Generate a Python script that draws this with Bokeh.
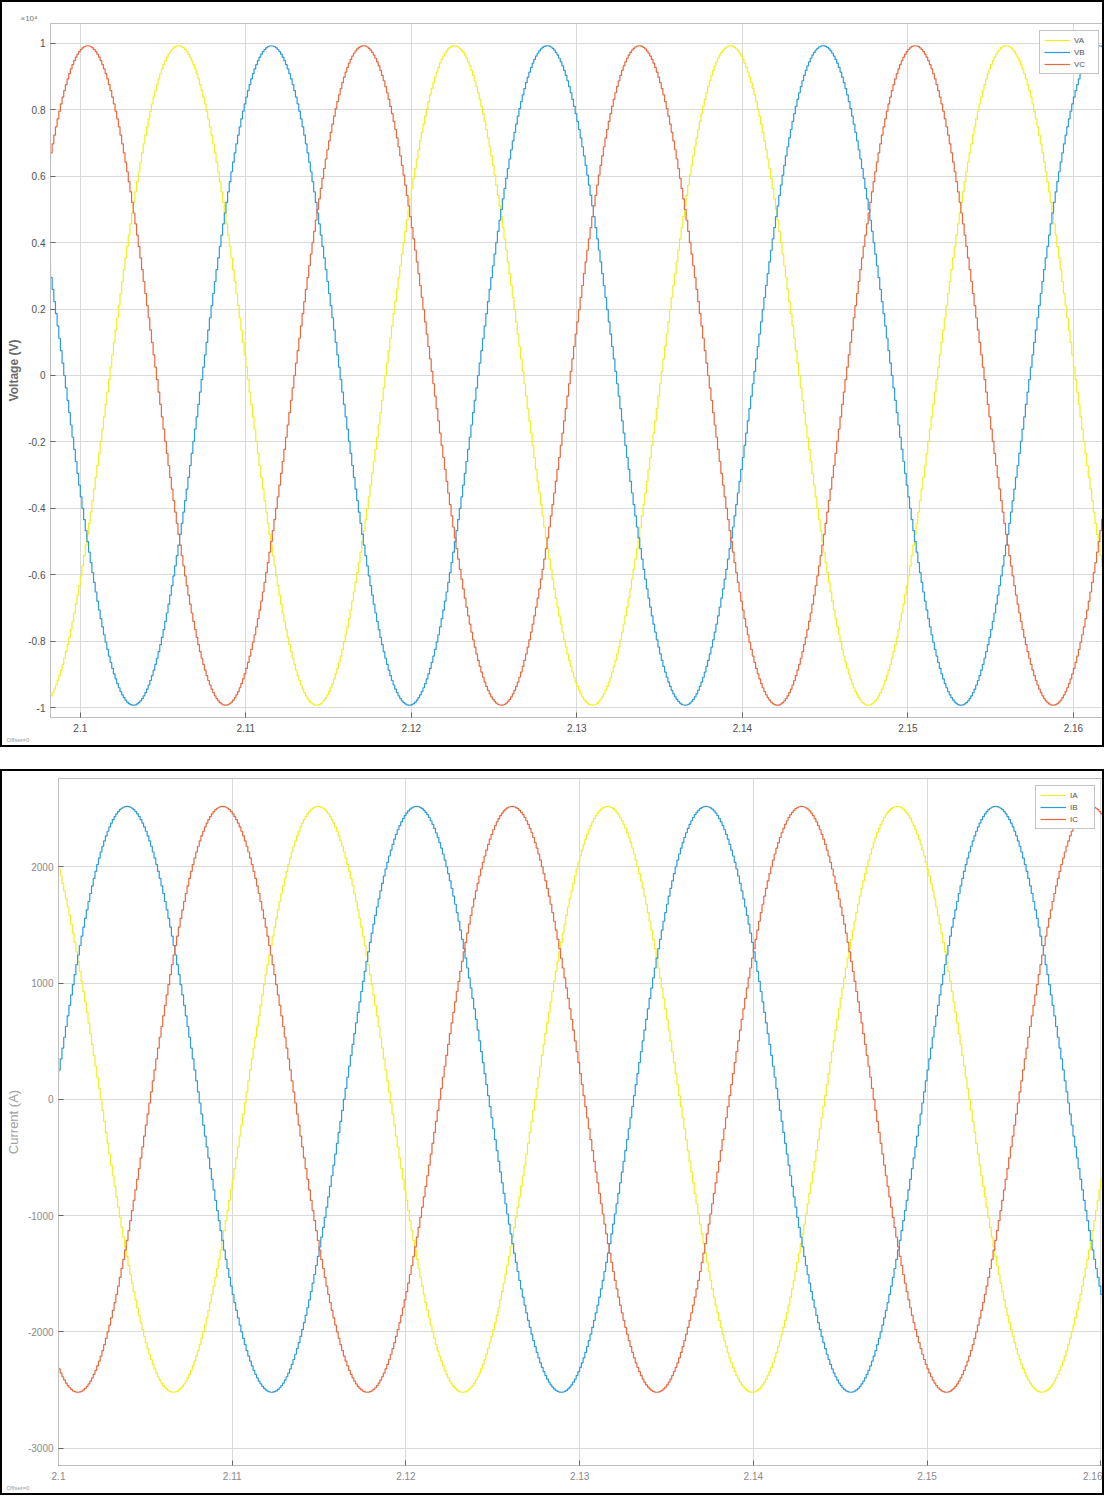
import numpy as np
from bokeh.plotting import figure
from bokeh.models import (Range1d, FixedTicker, CustomJSTickFormatter, Legend,
                          LegendItem, Title)
from bokeh.embed import file_html
from bokeh.resources import INLINE

# ---- values ----
v_names = ["VA", "VB", "VC"]
v_colors = ["#F0F020", "#2A9BDD", "#E8683F"]
v_crest_time = [2.1059, 2.1115, 2.1004]     # s, time of a positive crest
v_amplitude = [9930, 9930, 9930]            # V

i_names = ["IA", "IB", "IC"]
i_colors = ["#F0F020", "#2A9BDD", "#E8683F"]
i_crest_time = [2.1149, 2.1039, 2.1094]     # s
i_amplitude = [2520, 2520, 2520]            # A

frequency_hz = 60.0
sample_step_s = 1e-4

x_ticks = [2.10, 2.11, 2.12, 2.13, 2.14, 2.15, 2.16]
v_ticks = [-10000, -8000, -6000, -4000, -2000, 0, 2000, 4000, 6000, 8000, 10000]
i_ticks = [-3000, -2000, -1000, 0, 1000, 2000]

v_xrange = (2.0982, 2.1620)
v_yrange = (-10300, 10600)
i_xrange = (2.1000, 2.1601)
i_yrange = (-3150, 2760)

FONT = "Liberation Sans"
GRID = "#DADADA"
BOX = "#BEBEBE"


def sampled(crest, amp, lo, hi):
    k0 = int(np.floor(lo / sample_step_s)) - 1
    k1 = int(np.ceil(hi / sample_step_s)) + 1
    t = np.arange(k0, k1 + 1) * sample_step_s
    y = amp * np.cos(2 * np.pi * frequency_hz * (t - crest))
    return t, y


def make_panel(width, height, xr, yr, yticks, yfmt, ylabel, names, colors,
               crests, amps, mb, label_style, tick_color, extra_styles):
    styles = {"border": "2px solid black"}
    styles.update(extra_styles)
    p = figure(width=width, height=height, output_backend="svg",
               toolbar_location=None, x_range=Range1d(*xr), y_range=Range1d(*yr),
               min_border_left=mb[0], min_border_right=mb[1],
               min_border_top=mb[2], min_border_bottom=mb[3],
               background_fill_color="white", border_fill_color="white",
               styles=styles)
    p.outline_line_color = BOX
    p.outline_line_width = 1
    for ax in (p.xaxis[0], p.yaxis[0]):
        ax.axis_line_color = BOX
        ax.major_tick_in = 5
        ax.major_tick_out = 0
        ax.major_tick_line_color = "#666666"
        ax.minor_tick_line_color = None
        ax.major_label_text_font = FONT
        ax.major_label_text_font_size = "10px"
        ax.major_label_text_color = tick_color
        ax.major_label_standoff = 6
    p.xaxis[0].ticker = FixedTicker(ticks=x_ticks)
    p.xaxis[0].formatter = CustomJSTickFormatter(
        code="return String(Math.round(tick*100)/100);")
    p.yaxis[0].ticker = FixedTicker(ticks=yticks)
    p.yaxis[0].formatter = yfmt
    p.yaxis[0].major_label_standoff = 5
    p.yaxis[0].axis_label = ylabel
    p.yaxis[0].axis_label_text_font = FONT
    p.yaxis[0].axis_label_text_font_size = label_style[2]
    p.yaxis[0].axis_label_text_font_style = label_style[0]
    p.yaxis[0].axis_label_text_color = label_style[1]
    p.yaxis[0].axis_label_standoff = 4
    p.xgrid.grid_line_color = GRID
    p.ygrid.grid_line_color = GRID
    p.xgrid.ticker = FixedTicker(ticks=x_ticks)
    p.ygrid.ticker = FixedTicker(ticks=yticks)

    items = []
    for n, c, cr, a in zip(names, colors, crests, amps):
        t, y = sampled(cr, a, xr[0], xr[1])
        r = p.step(t, y, mode="after", line_color=c, line_width=1.2)
        items.append(LegendItem(label=n, renderers=[r]))
    leg = Legend(items=items, location="top_right")
    leg.label_text_font = FONT
    leg.label_text_font_size = "8px"
    leg.label_text_color = "#555555"
    leg.glyph_width = 26
    leg.glyph_height = 10
    leg.label_height = 10
    leg.label_standoff = 4
    leg.spacing = 2
    leg.padding = 4
    leg.margin = 7
    leg.border_line_color = "#8A8A8A"
    leg.border_line_width = 1
    leg.background_fill_alpha = 1.0
    p.add_layout(leg)

    p.add_layout(Title(text="Offset=0", align="left", offset=-mb[0] + 4,
                       standoff=0, text_font=FONT, text_font_size="6px",
                       text_font_style="normal", text_color="#9A9A9A"), "below")
    return p


v_fmt = CustomJSTickFormatter(code="return String(Math.round(tick/1000)/10);")
i_fmt = CustomJSTickFormatter(code="return String(tick);")

p1 = make_panel(1104, 747, v_xrange, v_yrange, v_ticks, v_fmt, "Voltage (V)",
                v_names, v_colors, v_crest_time, v_amplitude,
                (48, 0, 21, 32), ("bold", "#6A6A6A", "12px"), "#505050", {})
p1.add_layout(Title(text="×10⁴", align="left", offset=-30, standoff=2,
                    text_font=FONT, text_font_size="8px", text_font_style="normal",
                    text_color="#777777"), "above")

p2 = make_panel(1104, 726, i_xrange, i_yrange, i_ticks, i_fmt, "Current (A)",
                i_names, i_colors, i_crest_time, i_amplitude,
                (56, 4, 7, 32), ("normal", "#A0A0A0", "13px"), "#8A8A8A",
                {"margin-top": "22px"})

open("out.html", "w").write(file_html([p1, p2], INLINE))
